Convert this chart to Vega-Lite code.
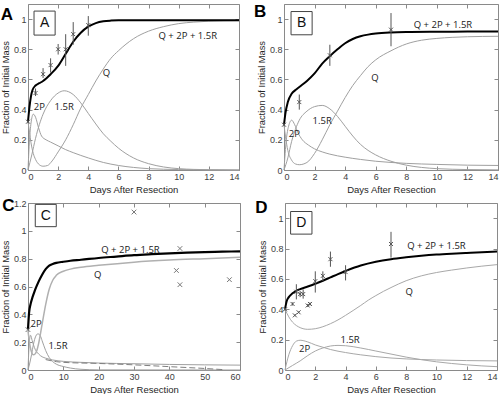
{
  "$schema": "https://vega.github.io/schema/vega-lite/v6.json",
  "padding": {"left": 0, "top": 2, "right": 2, "bottom": 0},
  "background": "white",
  "config": {
    "view": {"stroke": "#8a8a8a", "strokeWidth": 1},
    "axis": {
      "grid": false, "domain": false, "minExtent": 0,
      "labelFont": "Liberation Sans", "labelFontSize": 9, "labelColor": "#404040",
      "titleFont": "Liberation Sans", "titleFontWeight": "normal", "titleColor": "#262626",
      "tickColor": "#8a8a8a", "tickSize": -4, "labelPadding": 6
    },
    "axisX": {"titleFontSize": 9.5, "titlePadding": 3},
    "axisY": {"titleFontSize": 9.3, "titlePadding": 3}
  },
  "datasets": {
    "A": [
      {"s":"total","d":0,"v":0.32},{"s":"total","d":0.1,"v":0.42},{"s":"total","d":0.2,"v":0.49},{"s":"total","d":0.3,"v":0.53},{"s":"total","d":0.5,"v":0.56},{"s":"total","d":0.75,"v":0.575},{"s":"total","d":1,"v":0.59},{"s":"total","d":1.5,"v":0.635},{"s":"total","d":2,"v":0.69},{"s":"total","d":2.5,"v":0.77},{"s":"total","d":3,"v":0.85},{"s":"total","d":3.5,"v":0.91},{"s":"total","d":4,"v":0.95},{"s":"total","d":4.5,"v":0.973},{"s":"total","d":5,"v":0.985},{"s":"total","d":5.5,"v":0.99},{"s":"total","d":6,"v":0.992},{"s":"total","d":8,"v":0.993},{"s":"total","d":10,"v":0.993},{"s":"total","d":14,"v":0.993},
      {"s":"Q","d":0,"v":0.32},{"s":"Q","d":0.1,"v":0.25},{"s":"Q","d":0.2,"v":0.18},{"s":"Q","d":0.35,"v":0.11},{"s":"Q","d":0.5,"v":0.07},{"s":"Q","d":0.75,"v":0.035},{"s":"Q","d":1,"v":0.025},{"s":"Q","d":1.3,"v":0.03},{"s":"Q","d":1.6,"v":0.06},{"s":"Q","d":2,"v":0.12},{"s":"Q","d":2.5,"v":0.2},{"s":"Q","d":3,"v":0.3},{"s":"Q","d":3.5,"v":0.41},{"s":"Q","d":4,"v":0.5},{"s":"Q","d":4.5,"v":0.59},{"s":"Q","d":5,"v":0.67},{"s":"Q","d":5.5,"v":0.74},{"s":"Q","d":6,"v":0.79},{"s":"Q","d":7,"v":0.87},{"s":"Q","d":8,"v":0.92},{"s":"Q","d":9,"v":0.95},{"s":"Q","d":10,"v":0.97},{"s":"Q","d":11,"v":0.98},{"s":"Q","d":12,"v":0.986},{"s":"Q","d":14,"v":0.99},
      {"s":"R","d":0,"v":0},{"s":"R","d":0.25,"v":0.1},{"s":"R","d":0.5,"v":0.21},{"s":"R","d":0.75,"v":0.3},{"s":"R","d":1,"v":0.37},{"s":"R","d":1.5,"v":0.46},{"s":"R","d":2,"v":0.51},{"s":"R","d":2.4,"v":0.525},{"s":"R","d":3,"v":0.5},{"s":"R","d":3.5,"v":0.445},{"s":"R","d":4,"v":0.375},{"s":"R","d":4.5,"v":0.305},{"s":"R","d":5,"v":0.24},{"s":"R","d":5.5,"v":0.19},{"s":"R","d":6,"v":0.145},{"s":"R","d":7,"v":0.08},{"s":"R","d":8,"v":0.042},{"s":"R","d":9,"v":0.02},{"s":"R","d":10,"v":0.009},{"s":"R","d":11,"v":0.004},{"s":"R","d":12,"v":0.002},{"s":"R","d":14,"v":0},
      {"s":"P","d":0,"v":0},{"s":"P","d":0.1,"v":0.2},{"s":"P","d":0.2,"v":0.31},{"s":"P","d":0.35,"v":0.37},{"s":"P","d":0.5,"v":0.35},{"s":"P","d":0.7,"v":0.28},{"s":"P","d":0.9,"v":0.225},{"s":"P","d":1.2,"v":0.2},{"s":"P","d":1.5,"v":0.185},{"s":"P","d":2,"v":0.16},{"s":"P","d":2.5,"v":0.135},{"s":"P","d":3,"v":0.115},{"s":"P","d":4,"v":0.08},{"s":"P","d":5,"v":0.05},{"s":"P","d":6,"v":0.03},{"s":"P","d":7,"v":0.017},{"s":"P","d":8,"v":0.009},{"s":"P","d":9,"v":0.005},{"s":"P","d":10,"v":0.003},{"s":"P","d":12,"v":0.001},{"s":"P","d":14,"v":0}
    ],
    "Apts": [
      {"d":0,"v":0.32,"lo":0.31,"hi":0.33},{"d":0.5,"v":0.51,"lo":0.49,"hi":0.54},{"d":1,"v":0.635,"lo":0.61,"hi":0.675},{"d":1.5,"v":0.695,"lo":0.645,"hi":0.74},{"d":2,"v":0.8,"lo":0.765,"hi":0.835},{"d":2.5,"v":0.8,"lo":0.69,"hi":0.9},{"d":3,"v":0.9,"lo":0.83,"hi":0.98},{"d":4,"v":0.96,"lo":0.89,"hi":1.02}
    ],
    "B": [
      {"s":"total","d":0,"v":0.3},{"s":"total","d":0.1,"v":0.38},{"s":"total","d":0.25,"v":0.45},{"s":"total","d":0.5,"v":0.505},{"s":"total","d":0.75,"v":0.53},{"s":"total","d":1,"v":0.55},{"s":"total","d":1.5,"v":0.59},{"s":"total","d":2,"v":0.64},{"s":"total","d":2.5,"v":0.705},{"s":"total","d":3,"v":0.755},{"s":"total","d":3.5,"v":0.8},{"s":"total","d":4,"v":0.84},{"s":"total","d":4.5,"v":0.868},{"s":"total","d":5,"v":0.886},{"s":"total","d":5.5,"v":0.897},{"s":"total","d":6,"v":0.904},{"s":"total","d":7,"v":0.911},{"s":"total","d":8,"v":0.914},{"s":"total","d":10,"v":0.916},{"s":"total","d":12,"v":0.917},{"s":"total","d":14,"v":0.918},
      {"s":"Q","d":0,"v":0.3},{"s":"Q","d":0.1,"v":0.22},{"s":"Q","d":0.25,"v":0.13},{"s":"Q","d":0.5,"v":0.065},{"s":"Q","d":0.75,"v":0.04},{"s":"Q","d":1,"v":0.035},{"s":"Q","d":1.5,"v":0.05},{"s":"Q","d":2,"v":0.11},{"s":"Q","d":2.5,"v":0.2},{"s":"Q","d":3,"v":0.3},{"s":"Q","d":3.5,"v":0.39},{"s":"Q","d":4,"v":0.48},{"s":"Q","d":4.5,"v":0.56},{"s":"Q","d":5,"v":0.625},{"s":"Q","d":5.5,"v":0.685},{"s":"Q","d":6,"v":0.73},{"s":"Q","d":7,"v":0.79},{"s":"Q","d":8,"v":0.835},{"s":"Q","d":9,"v":0.86},{"s":"Q","d":10,"v":0.872},{"s":"Q","d":11,"v":0.879},{"s":"Q","d":12,"v":0.883},{"s":"Q","d":14,"v":0.886},
      {"s":"R","d":0,"v":0},{"s":"R","d":0.25,"v":0.08},{"s":"R","d":0.5,"v":0.19},{"s":"R","d":0.75,"v":0.27},{"s":"R","d":1,"v":0.33},{"s":"R","d":1.5,"v":0.39},{"s":"R","d":2,"v":0.42},{"s":"R","d":2.5,"v":0.428},{"s":"R","d":3,"v":0.405},{"s":"R","d":3.5,"v":0.355},{"s":"R","d":4,"v":0.29},{"s":"R","d":4.5,"v":0.225},{"s":"R","d":5,"v":0.17},{"s":"R","d":5.5,"v":0.13},{"s":"R","d":6,"v":0.1},{"s":"R","d":7,"v":0.058},{"s":"R","d":8,"v":0.032},{"s":"R","d":9,"v":0.017},{"s":"R","d":10,"v":0.009},{"s":"R","d":11,"v":0.005},{"s":"R","d":12,"v":0.003},{"s":"R","d":14,"v":0.001},
      {"s":"P","d":0,"v":0},{"s":"P","d":0.15,"v":0.2},{"s":"P","d":0.3,"v":0.29},{"s":"P","d":0.5,"v":0.33},{"s":"P","d":0.7,"v":0.3},{"s":"P","d":0.9,"v":0.25},{"s":"P","d":1.2,"v":0.2},{"s":"P","d":1.6,"v":0.165},{"s":"P","d":2,"v":0.14},{"s":"P","d":2.5,"v":0.12},{"s":"P","d":3,"v":0.105},{"s":"P","d":4,"v":0.085},{"s":"P","d":5,"v":0.07},{"s":"P","d":6,"v":0.058},{"s":"P","d":7,"v":0.05},{"s":"P","d":8,"v":0.044},{"s":"P","d":10,"v":0.037},{"s":"P","d":12,"v":0.032},{"s":"P","d":14,"v":0.03}
    ],
    "Bpts": [
      {"d":0,"v":0.3,"lo":0.29,"hi":0.31},{"d":1,"v":0.45,"lo":0.4,"hi":0.5},{"d":3,"v":0.76,"lo":0.69,"hi":0.83},{"d":7,"v":0.93,"lo":0.82,"hi":1.04}
    ],
    "C": [
      {"s":"total","d":0,"v":0.29},{"s":"total","d":0.3,"v":0.41},{"s":"total","d":0.7,"v":0.47},{"s":"total","d":1,"v":0.5},{"s":"total","d":2,"v":0.575},{"s":"total","d":3,"v":0.635},{"s":"total","d":4,"v":0.685},{"s":"total","d":5,"v":0.725},{"s":"total","d":6,"v":0.75},{"s":"total","d":7,"v":0.762},{"s":"total","d":8,"v":0.77},{"s":"total","d":10,"v":0.778},{"s":"total","d":12,"v":0.785},{"s":"total","d":15,"v":0.792},{"s":"total","d":20,"v":0.805},{"s":"total","d":25,"v":0.815},{"s":"total","d":30,"v":0.825},{"s":"total","d":35,"v":0.832},{"s":"total","d":40,"v":0.838},{"s":"total","d":45,"v":0.843},{"s":"total","d":50,"v":0.847},{"s":"total","d":55,"v":0.85},{"s":"total","d":60,"v":0.853},
      {"s":"Q","d":0,"v":0.28},{"s":"Q","d":0.3,"v":0.22},{"s":"Q","d":0.6,"v":0.17},{"s":"Q","d":1,"v":0.13},{"s":"Q","d":1.5,"v":0.11},{"s":"Q","d":2,"v":0.115},{"s":"Q","d":2.5,"v":0.14},{"s":"Q","d":3,"v":0.19},{"s":"Q","d":4,"v":0.33},{"s":"Q","d":5,"v":0.47},{"s":"Q","d":6,"v":0.58},{"s":"Q","d":7,"v":0.645},{"s":"Q","d":8,"v":0.68},{"s":"Q","d":10,"v":0.71},{"s":"Q","d":12,"v":0.725},{"s":"Q","d":15,"v":0.738},{"s":"Q","d":20,"v":0.752},{"s":"Q","d":30,"v":0.775},{"s":"Q","d":40,"v":0.79},{"s":"Q","d":50,"v":0.8},{"s":"Q","d":60,"v":0.81},
      {"s":"P","d":0,"v":0},{"s":"P","d":0.3,"v":0.17},{"s":"P","d":0.7,"v":0.25},{"s":"P","d":1.2,"v":0.21},{"s":"P","d":2,"v":0.15},{"s":"P","d":3,"v":0.115},{"s":"P","d":4,"v":0.095},{"s":"P","d":5,"v":0.085},{"s":"P","d":7,"v":0.072},{"s":"P","d":10,"v":0.062},{"s":"P","d":15,"v":0.055},{"s":"P","d":20,"v":0.05},{"s":"P","d":30,"v":0.045},{"s":"P","d":40,"v":0.04},{"s":"P","d":50,"v":0.037},{"s":"P","d":60,"v":0.035},
      {"s":"R","d":0,"v":0},{"s":"R","d":0.5,"v":0.05},{"s":"R","d":1,"v":0.11},{"s":"R","d":1.5,"v":0.18},{"s":"R","d":2,"v":0.23},{"s":"R","d":2.8,"v":0.26},{"s":"R","d":3.5,"v":0.245},{"s":"R","d":4,"v":0.21},{"s":"R","d":5,"v":0.14},{"s":"R","d":6,"v":0.09},{"s":"R","d":7,"v":0.06},{"s":"R","d":8,"v":0.042},{"s":"R","d":10,"v":0.025},{"s":"R","d":12,"v":0.014},{"s":"R","d":15,"v":0.005},{"s":"R","d":20,"v":0.001},{"s":"R","d":60,"v":0}
    ],
    "Cdash": [
      {"d":5,"v":0.075},{"d":8,"v":0.06},{"d":10,"v":0.055},{"d":20,"v":0.047},{"d":30,"v":0.037},{"d":40,"v":0.024},{"d":50,"v":0.011},{"d":55,"v":0.003}
    ],
    "Cpts": [
      {"d":0,"v":0.29},{"d":30,"v":1.135},{"d":42,"v":0.715},{"d":43,"v":0.873},{"d":43,"v":0.613},{"d":57,"v":0.649}
    ],
    "D": [
      {"s":"total","d":0,"v":0.4},{"s":"total","d":0.1,"v":0.45},{"s":"total","d":0.25,"v":0.48},{"s":"total","d":0.5,"v":0.505},{"s":"total","d":0.75,"v":0.522},{"s":"total","d":1,"v":0.533},{"s":"total","d":1.5,"v":0.55},{"s":"total","d":2,"v":0.568},{"s":"total","d":2.5,"v":0.588},{"s":"total","d":3,"v":0.61},{"s":"total","d":3.5,"v":0.632},{"s":"total","d":4,"v":0.652},{"s":"total","d":5,"v":0.688},{"s":"total","d":6,"v":0.713},{"s":"total","d":7,"v":0.73},{"s":"total","d":8,"v":0.742},{"s":"total","d":9,"v":0.752},{"s":"total","d":10,"v":0.76},{"s":"total","d":11,"v":0.766},{"s":"total","d":12,"v":0.771},{"s":"total","d":13,"v":0.776},{"s":"total","d":14,"v":0.78},
      {"s":"Q","d":0,"v":0.4},{"s":"Q","d":0.25,"v":0.35},{"s":"Q","d":0.5,"v":0.315},{"s":"Q","d":0.75,"v":0.293},{"s":"Q","d":1,"v":0.279},{"s":"Q","d":1.5,"v":0.268},{"s":"Q","d":2,"v":0.272},{"s":"Q","d":2.5,"v":0.285},{"s":"Q","d":3,"v":0.305},{"s":"Q","d":3.5,"v":0.33},{"s":"Q","d":4,"v":0.36},{"s":"Q","d":4.5,"v":0.392},{"s":"Q","d":5,"v":0.425},{"s":"Q","d":5.5,"v":0.46},{"s":"Q","d":6,"v":0.49},{"s":"Q","d":6.5,"v":0.518},{"s":"Q","d":7,"v":0.543},{"s":"Q","d":8,"v":0.588},{"s":"Q","d":9,"v":0.62},{"s":"Q","d":10,"v":0.642},{"s":"Q","d":11,"v":0.658},{"s":"Q","d":12,"v":0.672},{"s":"Q","d":13,"v":0.684},{"s":"Q","d":14,"v":0.694},
      {"s":"R","d":0,"v":0},{"s":"R","d":0.5,"v":0.03},{"s":"R","d":1,"v":0.06},{"s":"R","d":1.5,"v":0.095},{"s":"R","d":2,"v":0.125},{"s":"R","d":2.5,"v":0.145},{"s":"R","d":3,"v":0.158},{"s":"R","d":3.5,"v":0.162},{"s":"R","d":4,"v":0.16},{"s":"R","d":5,"v":0.145},{"s":"R","d":6,"v":0.125},{"s":"R","d":7,"v":0.105},{"s":"R","d":8,"v":0.085},{"s":"R","d":9,"v":0.068},{"s":"R","d":10,"v":0.054},{"s":"R","d":11,"v":0.043},{"s":"R","d":12,"v":0.034},{"s":"R","d":13,"v":0.027},{"s":"R","d":14,"v":0.022},
      {"s":"P","d":0,"v":0},{"s":"P","d":0.25,"v":0.1},{"s":"P","d":0.5,"v":0.16},{"s":"P","d":0.75,"v":0.19},{"s":"P","d":1,"v":0.196},{"s":"P","d":1.5,"v":0.185},{"s":"P","d":2,"v":0.165},{"s":"P","d":2.5,"v":0.15},{"s":"P","d":3,"v":0.135},{"s":"P","d":4,"v":0.115},{"s":"P","d":5,"v":0.1},{"s":"P","d":6,"v":0.088},{"s":"P","d":7,"v":0.079},{"s":"P","d":8,"v":0.073},{"s":"P","d":9,"v":0.069},{"s":"P","d":10,"v":0.066},{"s":"P","d":12,"v":0.062},{"s":"P","d":14,"v":0.06}
    ],
    "Dpts": [
      {"d":0,"v":0.4,"lo":0.39,"hi":0.41},{"d":0.5,"v":0.435,"lo":0.425,"hi":0.445},{"d":0.65,"v":0.36,"lo":0.355,"hi":0.365},{"d":0.75,"v":0.515,"lo":0.465,"hi":0.565},{"d":0.9,"v":0.38,"lo":0.375,"hi":0.385},{"d":1,"v":0.5,"lo":0.48,"hi":0.52},{"d":1.2,"v":0.5,"lo":0.47,"hi":0.53},{"d":1.5,"v":0.425,"lo":0.415,"hi":0.435},{"d":1.65,"v":0.435,"lo":0.425,"hi":0.445},{"d":2,"v":0.585,"lo":0.51,"hi":0.65},{"d":2.5,"v":0.62,"lo":0.585,"hi":0.65},{"d":3,"v":0.73,"lo":0.68,"hi":0.78},{"d":4,"v":0.645,"lo":0.59,"hi":0.69},{"d":7,"v":0.83,"lo":0.74,"hi":0.91}
    ],
    "labels": [
      {"p":"A","t":"Q + 2P + 1.5R","d":10.6,"v":0.89},{"p":"A","t":"Q","d":5.2,"v":0.64},{"p":"A","t":"2P","d":0.75,"v":0.42},{"p":"A","t":"1.5R","d":2.4,"v":0.42},
      {"p":"B","t":"Q + 2P + 1.5R","d":10.4,"v":0.96},{"p":"B","t":"Q","d":5.95,"v":0.61},{"p":"B","t":"1.5R","d":2.5,"v":0.325},{"p":"B","t":"2P","d":0.68,"v":0.237},
      {"p":"C","t":"Q + 2P + 1.5R","d":29,"v":0.86},{"p":"C","t":"Q","d":19.7,"v":0.685},{"p":"C","t":"2P","d":2.3,"v":0.327},{"p":"C","t":"1.5R","d":8.5,"v":0.17},
      {"p":"D","t":"Q + 2P + 1.5R","d":10,"v":0.82},{"p":"D","t":"Q","d":8.2,"v":0.513},{"p":"D","t":"2P","d":1.3,"v":0.137},{"p":"D","t":"1.5R","d":4.3,"v":0.197}
    ]
  },
  "spacing": 2,
  "vconcat": [
    {
      "spacing": 9,
      "hconcat": [
        {
          "width": 211, "height": 166,
          "resolve": {"axis": {"x": "independent", "y": "independent"}},
          "encoding": {
            "x": {"type": "quantitative", "scale": {"domain": [0, 14]}, "axis": null},
            "y": {"type": "quantitative", "scale": {"domain": [0, 1.1]}, "axis": null}
          },
          "layer": [
            {"data": {"name": "A"}, "transform": [{"filter": "datum.s !== 'total'"}], "mark": {"type": "line", "color": "#a0a0a0", "strokeWidth": 1, "interpolate": "monotone"}, "encoding": {"x": {"field": "d"}, "y": {"field": "v"}, "detail": {"field": "s"}}},
            {"data": {"name": "A"}, "transform": [{"filter": "datum.s === 'total'"}], "mark": {"type": "line", "color": "#000000", "strokeWidth": 2, "interpolate": "monotone"}, "encoding": {"x": {"field": "d", "type": "quantitative", "axis": {"values": [0,2,4,6,8,10,12,14], "title": "Days After Resection"}}, "y": {"field": "v", "type": "quantitative", "axis": {"values": [0,0.2,0.4,0.6,0.8,1], "format": "~g", "title": "Fraction of Initial Mass"}}}},
            {"data": {"name": "Apts"}, "mark": {"type": "rule", "color": "#555555", "strokeWidth": 1}, "encoding": {"x": {"field": "d"}, "y": {"field": "lo"}, "y2": {"field": "hi"}}},
            {"data": {"name": "Apts"}, "mark": {"type": "point", "shape": "M-1,-1L1,1M-1,1L1,-1", "size": 16, "filled": false, "color": "#555555", "strokeWidth": 1, "opacity": 1}, "encoding": {"x": {"field": "d"}, "y": {"field": "v"}}},
            {"data": {"name": "labels"}, "transform": [{"filter": "datum.p === 'A'"}], "mark": {"type": "text", "font": "Open Sans", "fontSize": 9.5, "color": "#1a1a1a"}, "encoding": {"x": {"field": "d"}, "y": {"field": "v"}, "text": {"field": "t"}}},
            {"data": {"values": [{}]}, "mark": {"type": "rect", "fill": "white", "stroke": "#444444", "strokeWidth": 1}, "encoding": {"x": {"datum": 0.4, "type": "quantitative", "axis": {"orient": "top", "labels": false, "title": null, "values": [0,2,4,6,8,10,12,14]}}, "x2": {"datum": 1.8}, "y": {"datum": 1.053, "type": "quantitative", "axis": {"orient": "right", "labels": false, "title": null, "values": [0,0.2,0.4,0.6,0.8,1]}}, "y2": {"datum": 0.894}}},
            {"data": {"values": [{}]}, "mark": {"type": "text", "font": "Liberation Sans", "fontSize": 14, "color": "#111111"}, "encoding": {"x": {"datum": 1.1}, "y": {"datum": 0.973}, "text": {"value": "A"}}},
            {"data": {"values": [{}]}, "mark": {"type": "text", "font": "Liberation Sans", "fontSize": 17, "fontWeight": "bold", "align": "left", "color": "#000000"}, "encoding": {"x": {"datum": -1.8}, "y": {"datum": 1.03}, "text": {"value": "A"}}}
          ]
        },
        {
          "width": 214, "height": 166,
          "resolve": {"axis": {"x": "independent", "y": "independent"}},
          "encoding": {
            "x": {"type": "quantitative", "scale": {"domain": [0, 14]}, "axis": null},
            "y": {"type": "quantitative", "scale": {"domain": [0, 1.1]}, "axis": null}
          },
          "layer": [
            {"data": {"name": "B"}, "transform": [{"filter": "datum.s !== 'total'"}], "mark": {"type": "line", "color": "#a0a0a0", "strokeWidth": 1, "interpolate": "monotone"}, "encoding": {"x": {"field": "d"}, "y": {"field": "v"}, "detail": {"field": "s"}}},
            {"data": {"name": "B"}, "transform": [{"filter": "datum.s === 'total'"}], "mark": {"type": "line", "color": "#000000", "strokeWidth": 2, "interpolate": "monotone"}, "encoding": {"x": {"field": "d", "type": "quantitative", "axis": {"values": [0,2,4,6,8,10,12,14], "title": "Days After Resection"}}, "y": {"field": "v", "type": "quantitative", "axis": {"values": [0,0.2,0.4,0.6,0.8,1], "format": "~g", "title": "Fraction of Initial Mass"}}}},
            {"data": {"name": "Bpts"}, "mark": {"type": "rule", "color": "#555555", "strokeWidth": 1}, "encoding": {"x": {"field": "d"}, "y": {"field": "lo"}, "y2": {"field": "hi"}}},
            {"data": {"name": "Bpts"}, "mark": {"type": "point", "shape": "M-1,-1L1,1M-1,1L1,-1", "size": 16, "filled": false, "color": "#555555", "strokeWidth": 1, "opacity": 1}, "encoding": {"x": {"field": "d"}, "y": {"field": "v"}}},
            {"data": {"name": "labels"}, "transform": [{"filter": "datum.p === 'B'"}], "mark": {"type": "text", "font": "Open Sans", "fontSize": 9.5, "color": "#1a1a1a"}, "encoding": {"x": {"field": "d"}, "y": {"field": "v"}, "text": {"field": "t"}}},
            {"data": {"values": [{}]}, "mark": {"type": "rect", "fill": "white", "stroke": "#444444", "strokeWidth": 1}, "encoding": {"x": {"datum": 0.46, "type": "quantitative", "axis": {"orient": "top", "labels": false, "title": null, "values": [0,2,4,6,8,10,12,14]}}, "x2": {"datum": 1.84}, "y": {"datum": 1.05, "type": "quantitative", "axis": {"orient": "right", "labels": false, "title": null, "values": [0,0.2,0.4,0.6,0.8,1]}}, "y2": {"datum": 0.896}}},
            {"data": {"values": [{}]}, "mark": {"type": "text", "font": "Liberation Sans", "fontSize": 14, "color": "#111111"}, "encoding": {"x": {"datum": 1.15}, "y": {"datum": 0.973}, "text": {"value": "B"}}},
            {"data": {"values": [{}]}, "mark": {"type": "text", "font": "Liberation Sans", "fontSize": 17, "fontWeight": "bold", "align": "left", "color": "#000000"}, "encoding": {"x": {"datum": -1.97}, "y": {"datum": 1.05}, "text": {"value": "B"}}}
          ]
        }
      ]
    },
    {
      "spacing": 9,
      "hconcat": [
        {
          "width": 212, "height": 167,
          "resolve": {"axis": {"x": "independent", "y": "independent"}},
          "encoding": {
            "x": {"type": "quantitative", "scale": {"domain": [0, 60]}, "axis": null},
            "y": {"type": "quantitative", "scale": {"domain": [0, 1.2]}, "axis": null}
          },
          "layer": [
            {"data": {"name": "C"}, "transform": [{"filter": "datum.s !== 'total' && datum.s !== 'Q'"}], "mark": {"type": "line", "color": "#a0a0a0", "strokeWidth": 1, "interpolate": "monotone"}, "encoding": {"x": {"field": "d"}, "y": {"field": "v"}, "detail": {"field": "s"}}},
            {"data": {"name": "Cdash"}, "mark": {"type": "line", "color": "#808080", "strokeWidth": 1, "strokeDash": [6, 3], "interpolate": "monotone"}, "encoding": {"x": {"field": "d"}, "y": {"field": "v"}}},
            {"data": {"name": "C"}, "transform": [{"filter": "datum.s === 'Q'"}], "mark": {"type": "line", "color": "#b0b0b0", "strokeWidth": 1.5, "interpolate": "monotone"}, "encoding": {"x": {"field": "d"}, "y": {"field": "v"}}},
            {"data": {"name": "C"}, "transform": [{"filter": "datum.s === 'total'"}], "mark": {"type": "line", "color": "#000000", "strokeWidth": 2.2, "interpolate": "monotone"}, "encoding": {"x": {"field": "d", "type": "quantitative", "axis": {"values": [0,10,20,30,40,50,60], "title": "Days After Resection"}}, "y": {"field": "v", "type": "quantitative", "axis": {"values": [0,0.2,0.4,0.6,0.8,1,1.2], "format": "~g", "title": "Fraction of Initial Mass"}}}},
            {"data": {"name": "Cpts"}, "mark": {"type": "point", "shape": "M-1,-1L1,1M-1,1L1,-1", "size": 22, "filled": false, "color": "#777777", "strokeWidth": 1, "opacity": 1}, "encoding": {"x": {"field": "d"}, "y": {"field": "v"}}},
            {"data": {"name": "labels"}, "transform": [{"filter": "datum.p === 'C'"}], "mark": {"type": "text", "font": "Open Sans", "fontSize": 9.5, "color": "#1a1a1a"}, "encoding": {"x": {"field": "d"}, "y": {"field": "v"}, "text": {"field": "t"}}},
            {"data": {"values": [{}]}, "mark": {"type": "rect", "fill": "white", "stroke": "#444444", "strokeWidth": 1}, "encoding": {"x": {"datum": 2.06, "type": "quantitative", "axis": {"orient": "top", "labels": false, "title": null, "values": [0,10,20,30,40,50,60]}}, "x2": {"datum": 8.0}, "y": {"datum": 1.19, "type": "quantitative", "axis": {"orient": "right", "labels": false, "title": null, "values": [0,0.2,0.4,0.6,0.8,1,1.2]}}, "y2": {"datum": 1.03}}},
            {"data": {"values": [{}]}, "mark": {"type": "text", "font": "Liberation Sans", "fontSize": 14, "color": "#111111"}, "encoding": {"x": {"datum": 5.03}, "y": {"datum": 1.11}, "text": {"value": "C"}}},
            {"data": {"values": [{}]}, "mark": {"type": "text", "font": "Liberation Sans", "fontSize": 17, "fontWeight": "bold", "align": "left", "color": "#000000"}, "encoding": {"x": {"datum": -7.3}, "y": {"datum": 1.175}, "text": {"value": "C"}}}
          ]
        },
        {
          "width": 212, "height": 167,
          "resolve": {"axis": {"x": "independent", "y": "independent"}},
          "encoding": {
            "x": {"type": "quantitative", "scale": {"domain": [0, 14]}, "axis": null},
            "y": {"type": "quantitative", "scale": {"domain": [0, 1.1]}, "axis": null}
          },
          "layer": [
            {"data": {"name": "D"}, "transform": [{"filter": "datum.s !== 'total'"}], "mark": {"type": "line", "color": "#a8a8a8", "strokeWidth": 1, "interpolate": "monotone"}, "encoding": {"x": {"field": "d"}, "y": {"field": "v"}, "detail": {"field": "s"}}},
            {"data": {"name": "D"}, "transform": [{"filter": "datum.s === 'total'"}], "mark": {"type": "line", "color": "#000000", "strokeWidth": 2, "interpolate": "monotone"}, "encoding": {"x": {"field": "d", "type": "quantitative", "axis": {"values": [0,2,4,6,8,10,12,14], "title": "Days After Resection"}}, "y": {"field": "v", "type": "quantitative", "axis": {"values": [0,0.2,0.4,0.6,0.8,1], "format": "~g", "title": "Fraction of Initial Mass"}}}},
            {"data": {"name": "Dpts"}, "mark": {"type": "rule", "color": "#555555", "strokeWidth": 1}, "encoding": {"x": {"field": "d"}, "y": {"field": "lo"}, "y2": {"field": "hi"}}},
            {"data": {"name": "Dpts"}, "mark": {"type": "point", "shape": "M-1,-1L1,1M-1,1L1,-1", "size": 16, "filled": false, "color": "#555555", "strokeWidth": 1, "opacity": 1}, "encoding": {"x": {"field": "d"}, "y": {"field": "v"}}},
            {"data": {"name": "labels"}, "transform": [{"filter": "datum.p === 'D'"}], "mark": {"type": "text", "font": "Open Sans", "fontSize": 9.5, "color": "#1a1a1a"}, "encoding": {"x": {"field": "d"}, "y": {"field": "v"}, "text": {"field": "t"}}},
            {"data": {"values": [{}]}, "mark": {"type": "rect", "fill": "white", "stroke": "#444444", "strokeWidth": 1}, "encoding": {"x": {"datum": 0.37, "type": "quantitative", "axis": {"orient": "top", "labels": false, "title": null, "values": [0,2,4,6,8,10,12,14]}}, "x2": {"datum": 1.78}, "y": {"datum": 1.044, "type": "quantitative", "axis": {"orient": "right", "labels": false, "title": null, "values": [0,0.2,0.4,0.6,0.8,1]}}, "y2": {"datum": 0.895}}},
            {"data": {"values": [{}]}, "mark": {"type": "text", "font": "Liberation Sans", "fontSize": 14, "color": "#111111"}, "encoding": {"x": {"datum": 1.075}, "y": {"datum": 0.97}, "text": {"value": "D"}}},
            {"data": {"values": [{}]}, "mark": {"type": "text", "font": "Liberation Sans", "fontSize": 17, "fontWeight": "bold", "align": "left", "color": "#000000"}, "encoding": {"x": {"datum": -1.97}, "y": {"datum": 1.07}, "text": {"value": "D"}}}
          ]
        }
      ]
    }
  ]
}
